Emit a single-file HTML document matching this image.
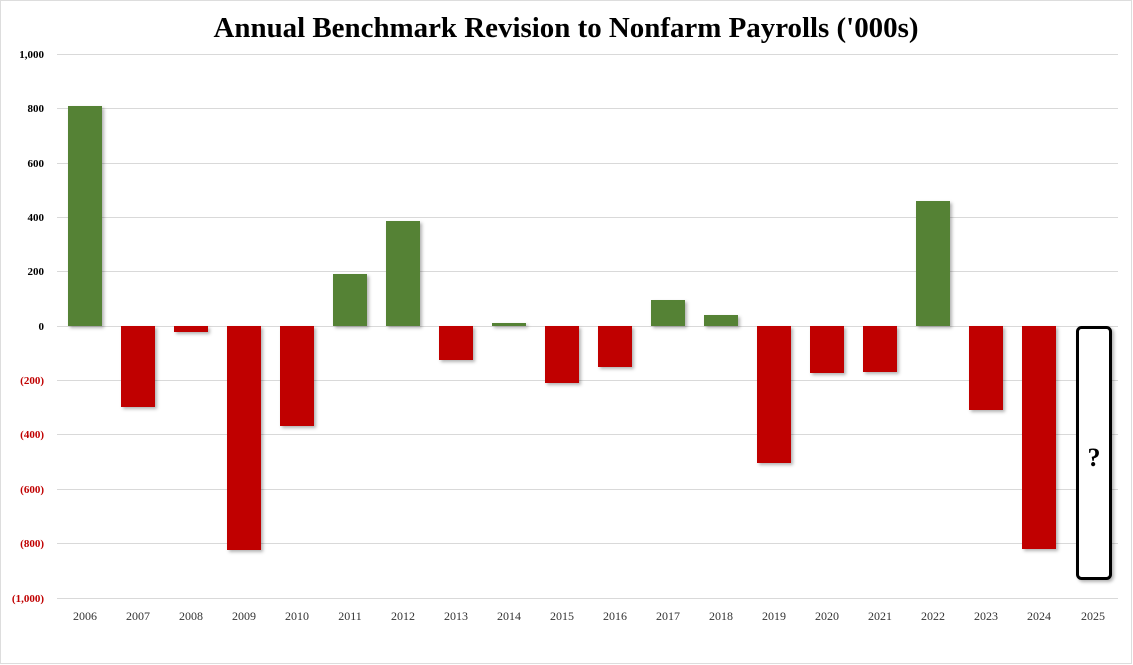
<!DOCTYPE html>
<html><head><meta charset="utf-8"><style>body{margin:0;background:#fff}svg{display:block}</style></head>
<body>
<svg width="1133" height="665" xmlns="http://www.w3.org/2000/svg" font-family="Liberation Serif, serif">
<defs><filter id="sh" x="-20%" y="-20%" width="150%" height="150%"><feDropShadow dx="2" dy="2" stdDeviation="1.5" flood-color="#000" flood-opacity="0.3"/></filter></defs>
<rect x="0.5" y="0.5" width="1131" height="663" fill="#fff" stroke="#ddd"/>
<text x="566" y="37" text-anchor="middle" font-size="29" font-weight="bold" fill="#000" textLength="705" lengthAdjust="spacingAndGlyphs">Annual Benchmark Revision to Nonfarm Payrolls ('000s)</text>
<g stroke="#d9d9d9" stroke-width="1">
<line x1="57" x2="1118" y1="54.5" y2="54.5"/><line x1="57" x2="1118" y1="108.5" y2="108.5"/>
<line x1="57" x2="1118" y1="163.5" y2="163.5"/><line x1="57" x2="1118" y1="217.5" y2="217.5"/>
<line x1="57" x2="1118" y1="271.5" y2="271.5"/><line x1="57" x2="1118" y1="326.5" y2="326.5"/>
<line x1="57" x2="1118" y1="380.5" y2="380.5"/><line x1="57" x2="1118" y1="434.5" y2="434.5"/>
<line x1="57" x2="1118" y1="489.5" y2="489.5"/><line x1="57" x2="1118" y1="543.5" y2="543.5"/>
<line x1="57" x2="1118" y1="598.5" y2="598.5"/>
</g>
<g font-size="11" font-weight="bold" text-anchor="end">
<text x="44" y="58" fill="#000">1,000</text><text x="44" y="112" fill="#000">800</text>
<text x="44" y="167" fill="#000">600</text><text x="44" y="221" fill="#000">400</text>
<text x="44" y="275" fill="#000">200</text><text x="44" y="330" fill="#000">0</text>
<g fill="#c00000"><text x="44" y="384">(200)</text><text x="44" y="438">(400)</text>
<text x="44" y="493">(600)</text><text x="44" y="547">(800)</text><text x="44" y="602">(1,000)</text></g>
</g>
<g filter="url(#sh)">
<rect x="68" y="106" width="34" height="220" fill="#548235"/>
<rect x="121" y="326" width="34" height="81" fill="#c00000"/>
<rect x="174" y="326" width="34" height="6" fill="#c00000"/>
<rect x="227" y="326" width="34" height="224" fill="#c00000"/>
<rect x="280" y="326" width="34" height="100" fill="#c00000"/>
<rect x="333" y="274" width="34" height="52" fill="#548235"/>
<rect x="386" y="221" width="34" height="105" fill="#548235"/>
<rect x="439" y="326" width="34" height="34" fill="#c00000"/>
<rect x="492" y="323" width="34" height="3" fill="#548235"/>
<rect x="545" y="326" width="34" height="57" fill="#c00000"/>
<rect x="598" y="326" width="34" height="41" fill="#c00000"/>
<rect x="651" y="300" width="34" height="26" fill="#548235"/>
<rect x="704" y="315" width="34" height="11" fill="#548235"/>
<rect x="757" y="326" width="34" height="137" fill="#c00000"/>
<rect x="810" y="326" width="34" height="47" fill="#c00000"/>
<rect x="863" y="326" width="34" height="46" fill="#c00000"/>
<rect x="916" y="201" width="34" height="125" fill="#548235"/>
<rect x="969" y="326" width="34" height="84" fill="#c00000"/>
<rect x="1022" y="326" width="34" height="223" fill="#c00000"/>
<rect x="1077.5" y="327.5" width="33" height="251" rx="4" fill="#fff" stroke="#000" stroke-width="3"/>
</g>
<text x="1094" y="466" text-anchor="middle" font-size="26" font-weight="bold">?</text>
<g font-size="12" fill="#333" text-anchor="middle">
<text x="85" y="620">2006</text><text x="138" y="620">2007</text><text x="191" y="620">2008</text>
<text x="244" y="620">2009</text><text x="297" y="620">2010</text><text x="350" y="620">2011</text>
<text x="403" y="620">2012</text><text x="456" y="620">2013</text><text x="509" y="620">2014</text>
<text x="562" y="620">2015</text><text x="615" y="620">2016</text><text x="668" y="620">2017</text>
<text x="721" y="620">2018</text><text x="774" y="620">2019</text><text x="827" y="620">2020</text>
<text x="880" y="620">2021</text><text x="933" y="620">2022</text><text x="986" y="620">2023</text>
<text x="1039" y="620">2024</text><text x="1093" y="620">2025</text>
</g>
</svg>
</body></html>
